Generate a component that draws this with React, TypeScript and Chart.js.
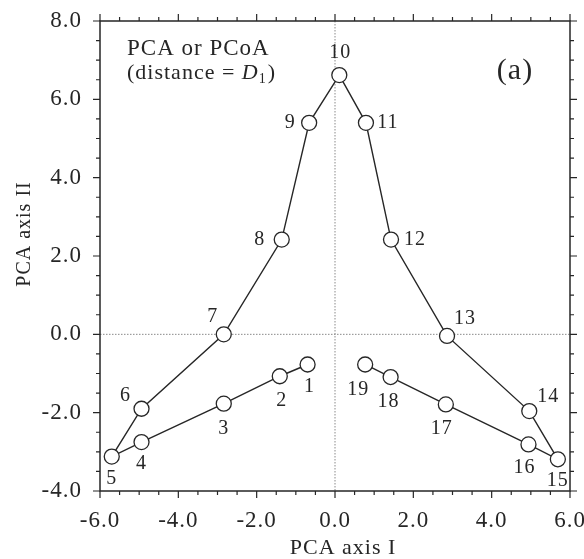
import React, { useEffect, useRef } from "react";
import { Chart, registerables } from "chart.js";

Chart.register(...registerables);

// ---- data ----
const siteLabels = ["1", "2", "3", "4", "5", "6", "7", "8", "9", "10", "11", "12", "13", "14", "15", "16", "17", "18", "19"];
const pcaAxisI = [-0.70, -1.41, -2.84, -4.94, -5.70, -4.94, -2.84, -1.36, -0.66, 0.11, 0.79, 1.43, 2.86, 4.96, 5.69, 4.94, 2.83, 1.42, 0.77];
const pcaAxisII = [-0.77, -1.07, -1.77, -2.75, -3.12, -1.90, 0.00, 2.42, 5.40, 6.62, 5.40, 2.42, -0.04, -1.96, -3.19, -2.81, -1.79, -1.09, -0.77];
const xRange = [-6, 6];
const yRange = [-4, 8];
const majorStep = 2;
const minorStep = 0.5;

// label placement relative to each marker (style, not data)
const labelOffsets: [number, number][] = [
  [2, 22], [2, 25], [0, 25], [0, 22], [0, 22], [-16, -13], [-11, -18], [-22, 0], [-19, 0], [1, -22],
  [22, 0], [24, 0], [18, -17], [19, -14], [0, 21], [-4, 23], [-4, 24], [-2, 25], [-7, 25],
];

const FONT = "'Liberation Serif', 'Times New Roman', serif";
const INK = "#262626";

const decor = {
  id: "decor",
  beforeDraw(chart: any) {
    const ctx = chart.ctx;
    ctx.save();
    ctx.fillStyle = "#ffffff";
    ctx.fillRect(0, 0, chart.width, chart.height);
    ctx.restore();
    ctx.letterSpacing = "1px";
  },
  beforeDatasetsDraw(chart: any) {
    const { ctx, chartArea: a, scales } = chart;
    const x0 = scales.x.getPixelForValue(0);
    const y0 = scales.y.getPixelForValue(0);
    ctx.save();
    ctx.strokeStyle = "#8a8a8a";
    ctx.lineWidth = 1;
    ctx.setLineDash([1.5, 1.5]);
    ctx.beginPath();
    ctx.moveTo(x0, a.top);
    ctx.lineTo(x0, a.bottom);
    ctx.moveTo(a.left, y0);
    ctx.lineTo(a.right, y0);
    ctx.stroke();
    ctx.restore();
  },
  afterDatasetsDraw(chart: any) {
    const { ctx } = chart;
    const meta = chart.getDatasetMeta(0);
    ctx.save();
    ctx.letterSpacing = "1px";
    ctx.fillStyle = INK;
    ctx.font = `20px ${FONT}`;
    ctx.textAlign = "center";
    ctx.textBaseline = "middle";
    meta.data.forEach((pt: any, i: number) => {
      const [dx, dy] = labelOffsets[i];
      ctx.fillText(siteLabels[i], pt.x + dx, pt.y + dy);
    });
    ctx.restore();
  },
  afterDraw(chart: any) {
    const { ctx, chartArea: a, scales } = chart;
    ctx.save();
    ctx.strokeStyle = INK;
    ctx.lineWidth = 1.5;
    ctx.strokeRect(a.left, a.top, a.right - a.left, a.bottom - a.top);
    ctx.lineWidth = 1.2;
    ctx.beginPath();
    const isMajor = (v: number) => Math.abs(v / majorStep - Math.round(v / majorStep)) < 1e-6;
    for (let v = xRange[0]; v <= xRange[1] + 1e-9; v += minorStep) {
      const px = scales.x.getPixelForValue(v);
      const len = isMajor(v) ? 7 : 4;
      ctx.moveTo(px, a.bottom);
      ctx.lineTo(px, a.bottom + len);
      ctx.moveTo(px, a.top);
      ctx.lineTo(px, a.top - len);
    }
    for (let v = yRange[0]; v <= yRange[1] + 1e-9; v += minorStep) {
      const py = scales.y.getPixelForValue(v);
      const len = isMajor(v) ? 7 : 4;
      ctx.moveTo(a.left, py);
      ctx.lineTo(a.left - len, py);
      ctx.moveTo(a.right, py);
      ctx.lineTo(a.right + len, py);
    }
    ctx.stroke();

    // texts
    ctx.fillStyle = INK;
    ctx.letterSpacing = "1px";
    ctx.textBaseline = "middle";
    ctx.textAlign = "left";
    ctx.font = `23px ${FONT}`;
    ctx.fillText("PCA or PCoA", 127, 49);
    let tx = 127;
    const ty = 73;
    const part1 = "(distance = ";
    ctx.font = `22px ${FONT}`;
    ctx.fillText(part1, tx, ty);
    tx += ctx.measureText(part1).width;
    ctx.font = `italic 22px ${FONT}`;
    ctx.fillText("D", tx, ty);
    tx += ctx.measureText("D").width;
    ctx.font = `14px ${FONT}`;
    ctx.fillText("1", tx, ty + 6);
    tx += ctx.measureText("1").width + 1;
    ctx.font = `22px ${FONT}`;
    ctx.fillText(")", tx, ty);

    ctx.textAlign = "center";
    ctx.font = `30px ${FONT}`;
    ctx.fillText("(a)", 515, 71);

    ctx.font = `22px ${FONT}`;
    ctx.fillText("PCA axis I", (a.left + a.right) / 2 + 8, 548);
    ctx.save();
    ctx.translate(25, (a.top + a.bottom) / 2 - 22);
    ctx.rotate(-Math.PI / 2);
    ctx.font = `20px ${FONT}`;
    ctx.fillText("PCA axis II", 0, 0);
    ctx.restore();
    ctx.restore();
  },
};

export default function App() {
  const ref = useRef<HTMLCanvasElement>(null);
  useEffect(() => {
    const canvas = ref.current!;
    Chart.defaults.font.family = FONT;
    const points = pcaAxisI.map((x, i) => ({ x, y: pcaAxisII[i] }));
    const tickFmt = (v: any) => Number(v).toFixed(1);
    const zeroPad = (s: any) => {
      s.paddingLeft = 0;
      s.paddingRight = 0;
      s.paddingTop = 0;
      s.paddingBottom = 0;
    };
    const chart = new Chart(canvas, {
      type: "scatter",
      data: {
        datasets: [
          {
            label: "sites",
            data: points,
            showLine: true,
            borderColor: INK,
            borderWidth: 1.4,
            pointRadius: 7.5,
            pointHoverRadius: 7.5,
            pointBorderWidth: 1.3,
            pointBorderColor: INK,
            pointBackgroundColor: "#ffffff",
            tension: 0,
          },
        ],
      },
      options: {
        responsive: false,
        animation: false,
        events: [],
        layout: { padding: { top: 21, right: 14, left: 0, bottom: 0 } },
        plugins: { legend: { display: false }, tooltip: { enabled: false }, title: { display: false } },
        scales: {
          x: {
            type: "linear",
            min: xRange[0],
            max: xRange[1],
            grid: { display: false, drawTicks: false, tickLength: 0 },
            border: { display: false },
            ticks: {
              stepSize: majorStep,
              autoSkip: false,
              maxRotation: 0,
              padding: 16,
              color: INK,
              font: { family: FONT, size: 23 },
              callback: tickFmt,
            },
            afterFit: (s: any) => {
              s.height = 68;
              zeroPad(s);
            },
          },
          y: {
            type: "linear",
            min: yRange[0],
            max: yRange[1],
            grid: { display: false, drawTicks: false, tickLength: 0 },
            border: { display: false },
            ticks: {
              stepSize: majorStep,
              autoSkip: false,
              padding: 18,
              color: INK,
              font: { family: FONT, size: 23 },
              callback: tickFmt,
            },
            afterFit: (s: any) => {
              s.width = 100;
              zeroPad(s);
            },
          },
        },
      },
      plugins: [decor],
    } as any);
    return () => chart.destroy();
  }, []);
  return (
    <div style={{ position: "fixed", left: 0, top: 0, width: 584, height: 559, background: "#fff" }}>
      <canvas ref={ref} width={584} height={559} style={{ display: "block", width: 584, height: 559 }} />
    </div>
  );
}
